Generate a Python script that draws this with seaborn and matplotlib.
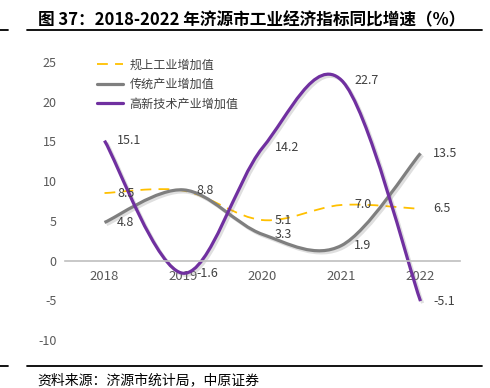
import matplotlib
matplotlib.use("Agg")
import matplotlib.pyplot as plt
import matplotlib.patheffects as pe
import seaborn as sns
from matplotlib.path import Path
from matplotlib.patches import PathPatch
from matplotlib.lines import Line2D

years = ["2018", "2019", "2020", "2021", "2022"]
above_scale = [8.5, 8.8, 5.1, 7.0, 6.5]
traditional = [4.8, 8.9, 3.3, 1.9, 13.5]
hightech = [15.1, -1.6, 14.2, 22.7, -5.1]

above_labels = ["8.5", "8.8", "5.1", "7.0", "6.5"]
traditional_labels = ["4.8", None, "3.3", "1.9", "13.5"]
hightech_labels = ["15.1", "-1.6", "14.2", "22.7", "-5.1"]

names = ["规上工业增加值", "传统产业增加值", "高新技术产业增加值"]
colors = ["#FFC000", "#7F7F7F", "#7030A0"]

sns.set_theme(style="white")
plt.rcParams["font.family"] = ["Noto Sans CJK SC", "DejaVu Sans"]
plt.rcParams["axes.unicode_minus"] = False


def smooth_path(xs, ys):
    # excel-style smoothed line: catmull-rom as cubic bezier segments
    pts = list(zip(xs, ys))
    n = len(pts)
    verts = [pts[0]]
    codes = [Path.MOVETO]
    for i in range(n - 1):
        p0 = pts[max(i - 1, 0)]
        p1 = pts[i]
        p2 = pts[i + 1]
        p3 = pts[min(i + 2, n - 1)]
        c1 = (p1[0] + (p2[0] - p0[0]) / 6, p1[1] + (p2[1] - p0[1]) / 6)
        c2 = (p2[0] - (p3[0] - p1[0]) / 6, p2[1] - (p3[1] - p1[1]) / 6)
        verts += [c1, c2, p2]
        codes += [Path.CURVE4] * 3
    return Path(verts, codes)


fig = plt.figure(figsize=(4.9, 3.88), dpi=100)
ax = fig.add_axes([65 / 490, 1 - 340 / 388, 395 / 490, 278 / 388])

pos = list(range(len(years)))
series = [(above_scale, above_labels, "--", 1.3),
          (traditional, traditional_labels, "-", 2.3),
          (hightech, hightech_labels, "-", 2.3)]

for (vals, labs, ls, lw), col in zip(series, colors):
    effects = [pe.Normal()]
    if ls == "-":
        effects = [pe.SimpleLineShadow(offset=(1.5, -1.5), shadow_color="#808080", alpha=0.25),
                   pe.Normal()]
    patch = PathPatch(smooth_path(pos, vals), facecolor="none", edgecolor=col,
                      lw=lw, linestyle=(0, (6, 4)) if ls == "--" else "-",
                      path_effects=effects, capstyle="butt")
    ax.add_patch(patch)
    for x, v, t in zip(pos, vals, labs):
        if t is None:
            continue
        ax.annotate(t, (x, v), xytext=(9, 0), textcoords="offset points",
                    ha="left", va="center", fontsize=9, color="#404040")

ax.set_xlim(-0.5, 4.5)
ax.set_ylim(-10, 25)
ax.set_yticks(range(-10, 26, 5))
ax.tick_params(axis="y", length=0, pad=6, labelsize=9, labelcolor="#595959")

for s in ["left", "top", "right"]:
    ax.spines[s].set_visible(False)
ax.spines["bottom"].set_position(("data", 0))
ax.spines["bottom"].set_color("#BFBFBF")
ax.spines["bottom"].set_linewidth(1.2)

ax.set_xticks([i - 0.5 for i in range(len(years) + 1)])
ax.set_xticklabels([])
ax.set_xticks(pos, minor=True)
ax.set_xticklabels(years, minor=True)
ax.tick_params(axis="x", which="major", length=5, color="#BFBFBF", width=1.2, direction="out")
ax.tick_params(axis="x", which="minor", length=0, pad=7, labelsize=9.5, labelcolor="#595959")

handles = [Line2D([], [], color=colors[0], lw=1.3, linestyle=(0, (6, 4))),
           Line2D([], [], color=colors[1], lw=2.3),
           Line2D([], [], color=colors[2], lw=2.3)]
ax.legend(handles, names, loc="upper left", bbox_to_anchor=(0.065, 1.035), frameon=False,
          fontsize=8.7, labelcolor="#404040", handlelength=2.2, handletextpad=0.5,
          labelspacing=0.55, borderpad=0)

fig.text(38 / 490, 1 - 20 / 388, "图 37：2018-2022 年济源市工业经济指标同比增速（%）",
         fontsize=12, fontweight="bold", ha="left", va="center", color="black")
fig.text(37 / 490, 1 - 380 / 388, "资料来源：济源市统计局，中原证券",
         fontsize=10, ha="left", va="center", color="black")

for y in [30, 366]:
    fig.add_artist(Line2D([27 / 490, 482 / 490], [1 - y / 388] * 2,
                          transform=fig.transFigure, color="black", lw=1.3))
    fig.add_artist(Line2D([0, 8 / 490], [1 - y / 388] * 2,
                          transform=fig.transFigure, color="black", lw=1.3))

fig.savefig("out.png", dpi=100)
